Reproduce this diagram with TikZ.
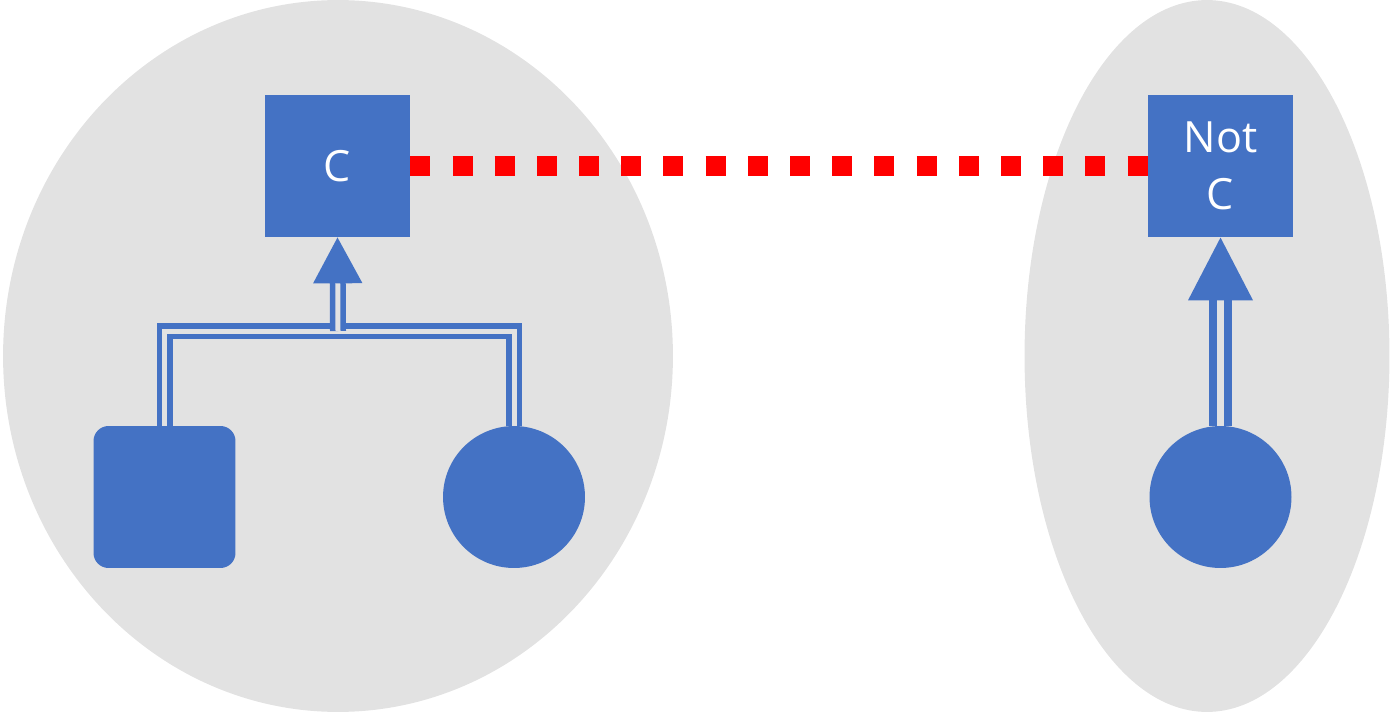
\documentclass[tikz,border=0pt]{standalone}
\usepackage{fontspec}
\setmainfont{Open Sans}
\usepackage{tikz}
\usetikzlibrary{arrows.meta}
\definecolor{blobgray}{HTML}{E2E2E2}
\definecolor{boxblue}{HTML}{4472C4}
\definecolor{linkred}{HTML}{FF0000}

\begin{document}
\begin{tikzpicture}[x=0.02cm, y=-0.02cm,
  box/.style={fill=boxblue, minimum width=2.9cm, minimum height=2.84cm, inner sep=0pt,
    text=white, align=center, font=\fontsize{24.5}{32.5}\selectfont},
  blob/.style={fill=boxblue, minimum size=2.84cm, inner sep=0pt},
  dbl/.style={draw=boxblue, double=blobgray, line width=0.11cm, double distance=0.1cm},
  dblbig/.style={draw=boxblue, double=blobgray, line width=0.15cm, double distance=0.15cm}]
  \useasboundingbox (0,0) rectangle (1393,713);
  % groups
  \fill[blobgray] (338,356) ellipse [x radius=6.7cm, y radius=7.12cm];
  \fill[blobgray] (1207,356) ellipse [x radius=3.65cm, y radius=7.12cm];
  % boxes
  \node[box] (c) at (337.5,166) {C};
  \node[box] (notc) at (1220.5,166) {Not\\C};
  % lower shapes
  \node[blob, rounded corners=0.3cm] (sq) at (164.5,497) {};
  \node[blob, circle] (lc) at (514,497) {};
  \node[blob, circle] (rc) at (1220.5,497) {};
  % links
  \coordinate (mid) at (338,331);
  \draw[dbl] (sq.north) |- (mid) -| (lc.north);
  \draw[dbl, -{Triangle[width=0.96cm, length=0.92cm]}] (mid) -- (c.south);
  \draw[dblbig, -{Triangle[width=1.26cm, length=1.26cm]}] (rc.north) -- (notc.south);
  % red dotted link
  \draw[linkred, line width=0.4cm, dash pattern=on 0.4cm off 0.444cm] (c.east) -- (notc.west);
\end{tikzpicture}
\end{document}
